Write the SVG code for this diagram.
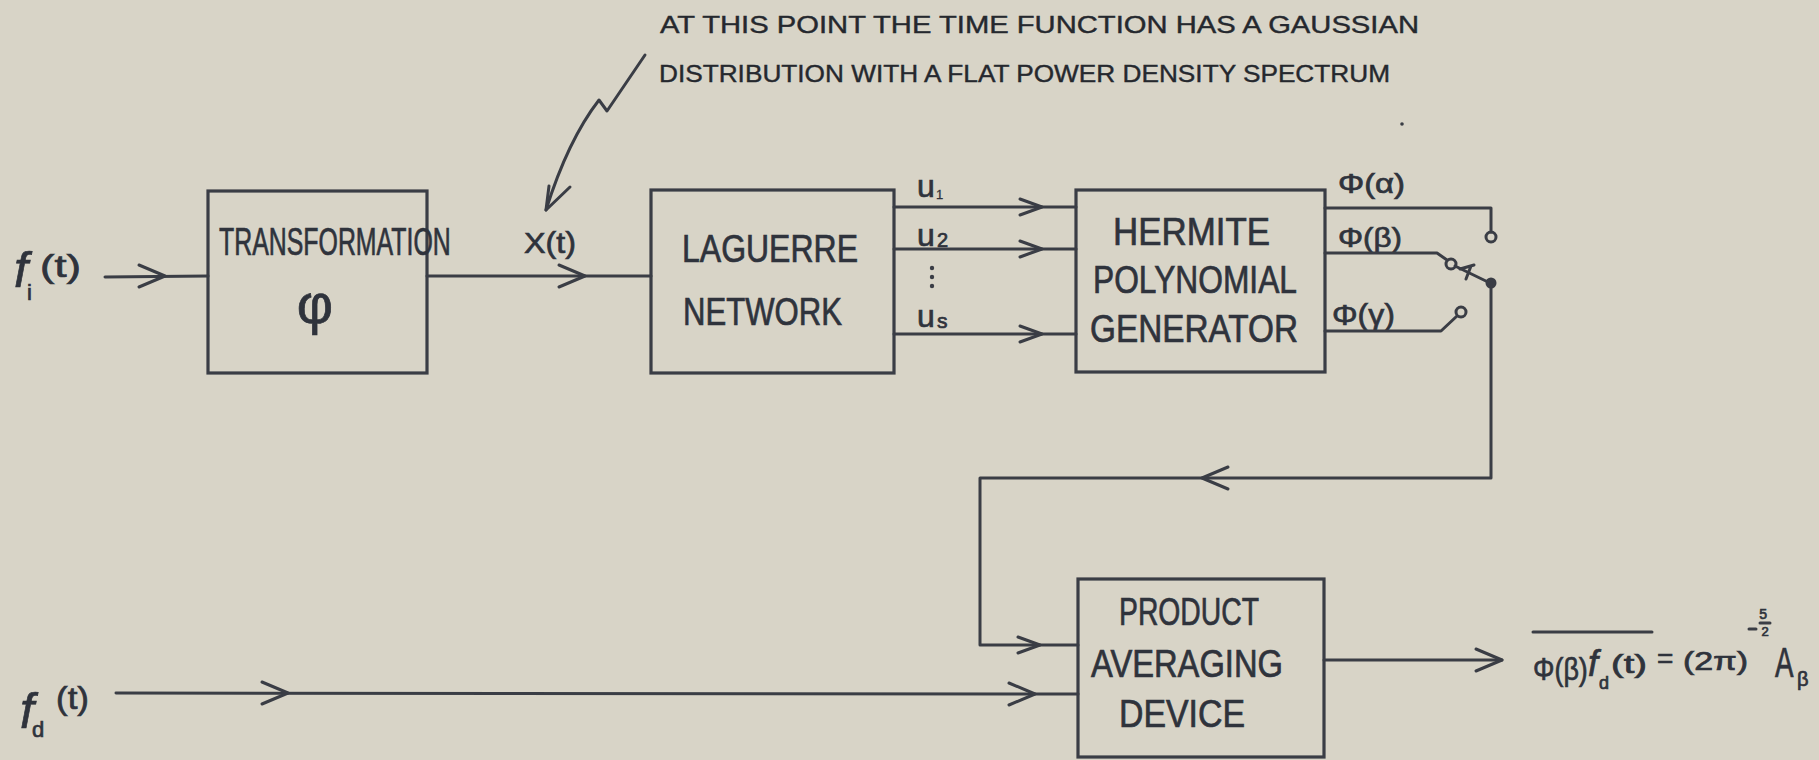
<svg xmlns="http://www.w3.org/2000/svg" width="1819" height="760" viewBox="0 0 1819 760">
  <style>
    .ink { fill: none; stroke: #3a3d45; stroke-width: 3; stroke-linecap: round; stroke-linejoin: round; }
    .box { fill: none; stroke: #3a3d45; stroke-width: 3.2; }
    .lbl { font-family: "Liberation Sans", "DejaVu Sans", sans-serif; fill: #2f333c; stroke: #2f333c; stroke-width: 0.7; }
    .note { font-family: "Liberation Sans", "DejaVu Sans", sans-serif; fill: #25282e; stroke: #25282e; stroke-width: 0.4; font-size: 24px; }
    .blk { font-size: 38px; }
    .dot { fill: #3a3d45; }
    .ring { fill: none; stroke: #3a3d45; stroke-width: 3; }
  </style>
  <defs>
    <!-- open chevron arrowhead, tip at origin, pointing +x -->
    <path id="chev" class="ink" d="M-26,-11 L0,0 L-26,11"/>
    <path id="chev-s" class="ink" d="M-22,-8 L0,0 L-22,8"/>
  </defs>

  <rect width="1819" height="760" fill="#d8d4c7"/>

  <!-- annotation -->
  <g id="annotation">
    <text class="note" x="660" y="33" textLength="759" lengthAdjust="spacingAndGlyphs">AT THIS POINT THE TIME FUNCTION HAS A GAUSSIAN</text>
    <text class="note" x="659" y="82" font-size="25" textLength="731" lengthAdjust="spacingAndGlyphs">DISTRIBUTION WITH A FLAT POWER DENSITY SPECTRUM</text>
    <path class="ink" d="M645,55 L607,111 L599,100 Q568,140 546,210"/>
    <path class="ink" d="M570,187 L546,210 L549,186"/>
    <circle class="dot" cx="1402" cy="124" r="1.8"/>
  </g>

  <!-- input signals -->
  <g id="input-fi">
    <text class="lbl" font-size="32">
      <tspan x="14" y="287" font-size="50" font-style="italic">f</tspan>
      <tspan x="27" y="300" font-size="22">i</tspan>
      <tspan x="40" y="277" textLength="41" lengthAdjust="spacingAndGlyphs">(t)</tspan>
    </text>
  </g>
  <g id="input-fd">
    <text class="lbl" font-size="32">
      <tspan x="20" y="728" font-size="50" font-style="italic">f</tspan>
      <tspan x="32" y="737" font-size="22">d</tspan>
      <tspan x="56" y="709" textLength="33" lengthAdjust="spacingAndGlyphs">(t)</tspan>
    </text>
  </g>

  <!-- blocks -->
  <g id="transformation">
    <rect class="box" x="208" y="191" width="219" height="182"/>
    <text class="lbl blk" transform="translate(219,255) scale(0.655,1)">TRANSFORMATION</text>
    <text class="lbl" x="315" y="323" font-size="56" text-anchor="middle">φ</text>
  </g>

  <g id="laguerre">
    <rect class="box" x="651" y="190" width="243" height="183"/>
    <text class="lbl blk" x="682" y="262" font-size="41" textLength="176" lengthAdjust="spacingAndGlyphs">LAGUERRE</text>
    <text class="lbl blk" x="683" y="325" font-size="40" textLength="159" lengthAdjust="spacingAndGlyphs">NETWORK</text>
  </g>

  <g id="hermite">
    <rect class="box" x="1076" y="190" width="249" height="182"/>
    <text class="lbl blk" x="1113" y="245" font-size="36" textLength="157" lengthAdjust="spacingAndGlyphs">HERMITE</text>
    <text class="lbl blk" x="1093" y="293" font-size="37" textLength="204" lengthAdjust="spacingAndGlyphs">POLYNOMIAL</text>
    <text class="lbl blk" x="1090" y="342" font-size="39" textLength="208" lengthAdjust="spacingAndGlyphs">GENERATOR</text>
  </g>

  <g id="product-averaging">
    <rect class="box" x="1078" y="579" width="246" height="178"/>
    <text class="lbl blk" x="1119" y="625" font-size="35" textLength="140" lengthAdjust="spacingAndGlyphs">PRODUCT</text>
    <text class="lbl blk" x="1091" y="677" font-size="37" textLength="192" lengthAdjust="spacingAndGlyphs">AVERAGING</text>
    <text class="lbl blk" x="1119" y="727" font-size="37" textLength="126" lengthAdjust="spacingAndGlyphs">DEVICE</text>
  </g>

  <!-- output relation -->
  <g id="output-formula">
    <line class="ink" x1="1533" y1="632" x2="1652" y2="632"/>
    <text class="lbl" font-size="32" transform="translate(1533,680) scale(0.84,1)">Φ(β)</text>
    <text class="lbl" font-size="26">
      <tspan x="1588" y="676" font-size="36" font-style="italic">f</tspan>
      <tspan x="1599" y="689" font-size="18">d</tspan>
      <tspan x="1611" y="673" textLength="36" lengthAdjust="spacingAndGlyphs">(t)</tspan>
      <tspan x="1657" y="668" font-size="28">=</tspan>
      <tspan x="1683" y="670" textLength="65" lengthAdjust="spacingAndGlyphs">(2π)</tspan>
    </text>
    <line class="ink" x1="1749" y1="629" x2="1756" y2="629" stroke-width="2"/>
    <text class="lbl" font-size="14" text-anchor="middle" stroke-width="0.3">
      <tspan x="1765" y="619">5</tspan>
      <tspan x="1765" y="636" font-size="13">2</tspan>
    </text>
    <line class="ink" x1="1760" y1="623" x2="1770" y2="623" stroke-width="1.6"/>
    <text class="lbl" font-size="42" transform="translate(1775,677) scale(0.66,1)">A</text>
    <text class="lbl" x="1797" y="686" font-size="20">β</text>
  </g>

  <!-- signal labels -->
  <g id="signal-labels">
    <text class="lbl" x="524" y="253" font-size="30" textLength="52" lengthAdjust="spacingAndGlyphs">X(t)</text>
    <text class="lbl" font-size="32"><tspan x="917" y="197">u</tspan><tspan x="936" y="199" font-size="13" stroke-width="0.3">1</tspan></text>
    <text class="lbl" font-size="32"><tspan x="917" y="246">u</tspan><tspan x="937" y="247" font-size="20">2</tspan></text>
    <circle class="dot" cx="932" cy="268" r="2.2"/>
    <circle class="dot" cx="932" cy="277" r="2.2"/>
    <circle class="dot" cx="932" cy="286" r="2.2"/>
    <text class="lbl" font-size="32"><tspan x="917" y="327">u</tspan><tspan x="937" y="328" font-size="21">s</tspan></text>
    <text class="lbl" x="1338" y="193" font-size="28" textLength="67" lengthAdjust="spacingAndGlyphs">Φ(α)</text>
    <text class="lbl" x="1338" y="247" font-size="28" textLength="64" lengthAdjust="spacingAndGlyphs">Φ(β)</text>
    <text class="lbl" x="1332" y="325" font-size="30" textLength="63" lengthAdjust="spacingAndGlyphs">Φ(γ)</text>
  </g>

  <!-- connectors -->
  <g id="connectors">
    <line class="ink" x1="105" y1="277" x2="208" y2="276"/>
    <use href="#chev" x="165" y="276"/>

    <line class="ink" x1="427" y1="276" x2="651" y2="276"/>
    <use href="#chev" x="585" y="276"/>

    <line class="ink" x1="894" y1="207" x2="1076" y2="207"/>
    <use href="#chev-s" x="1042" y="207"/>
    <line class="ink" x1="894" y1="249" x2="1076" y2="249"/>
    <use href="#chev-s" x="1042" y="249"/>
    <line class="ink" x1="894" y1="334" x2="1076" y2="334"/>
    <use href="#chev-s" x="1042" y="334"/>

    <!-- selector switch -->
    <polyline class="ink" points="1325,208 1491,208 1491,232"/>
    <circle class="ring" cx="1491" cy="237" r="5"/>
    <polyline class="ink" points="1325,253 1437,253 1447,260"/>
    <circle class="ring" cx="1451" cy="264" r="5"/>
    <line class="ink" x1="1455" y1="266" x2="1490" y2="283"/>
    <path class="ink" d="M1460,269 L1474,265 M1466,279 L1471,266" stroke-width="2.5"/>
    <polyline class="ink" points="1325,331 1441,331 1457,316"/>
    <circle class="ring" cx="1461" cy="312" r="5"/>
    <circle class="dot" cx="1491" cy="283" r="5.5"/>

    <!-- feedback to product averaging device -->
    <polyline class="ink" points="1491,283 1491,478 980,478 980,645 1078,645"/>
    <use href="#chev" transform="translate(1202,478) rotate(180)"/>
    <use href="#chev-s" x="1040" y="645"/>

    <line class="ink" x1="116" y1="693" x2="1078" y2="694"/>
    <use href="#chev" x="288" y="693"/>
    <use href="#chev" x="1035" y="694"/>

    <line class="ink" x1="1324" y1="660" x2="1502" y2="660"/>
    <use href="#chev" x="1502" y="660"/>
  </g>
</svg>
